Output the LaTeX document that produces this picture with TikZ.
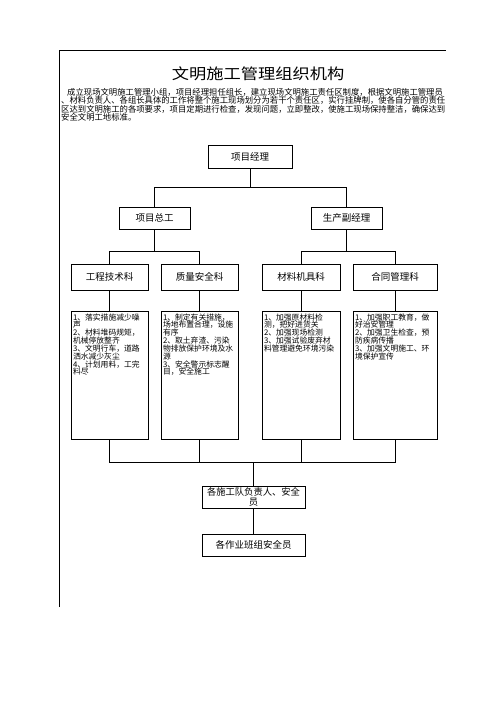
\documentclass[tikz,border=0pt]{standalone}
\usepackage{fontspec}
\setmainfont{Noto Sans CJK SC}
\newfontfamily\titleFont[FakeStretch=1.15]{Noto Sans CJK SC}
\usetikzlibrary{positioning}
\tikzstyle{chart} = [x = 1pt, y = -1pt]
\tikzstyle{frameLine} = [color=black, line width = .9pt]
\tikzstyle{link} = [color=black, line width = .8pt]
\tikzstyle{postBox} = [draw=black, line width = .8pt, inner sep = 0pt, font=\postFont]
\tikzstyle{noteBox} = [draw=black, line width = .8pt, inner sep = 2pt, anchor = north]
\newcommand{\postFont}{\fontsize{9.5}{10}\selectfont}
\newcommand{\noteFont}{\fontsize{7.8}{7.85}\selectfont}
\newcommand{\introFont}{\fontsize{8.35}{8.2}\selectfont}
\newcommand{\noteText}[2]{\parbox[t][124pt][t]{#1}{\raggedright\noteFont #2}}

\begin{document}
\begin{tikzpicture}[chart]
         \useasboundingbox (0,0) rectangle (496,702);
         \draw [frameLine] (59,607) -- (59,50) -- (446,50);

         \node (title) at (258,74) {\titleFont\fontsize{15}{15}\selectfont 文明施工管理组织机构};
         \begin{scope}
           \clip (0,0) rectangle (446,702);
           \node (intro) [anchor = north west, inner sep = 0pt, align = left, font=\introFont] at (61,88.5)
             {\hspace*{6pt}成立现场文明施工管理小组，项目经理担任组长，建立现场文明施工责任区制度，根据文明施工管理员\\
              、材料负责人、各组长具体的工作将整个施工现场划分为若干个责任区，实行挂牌制，使各自分管的责任\\
              区达到文明施工的各项要求，项目定期进行检查，发现问题，立即整改，使施工现场保持整洁，确保达到\\
              安全文明工地标准。};
         \end{scope}

         \node (pm) [postBox, minimum width = 84pt, minimum height = 23pt] at (250,156.5) {项目经理};
         \node (chief) [postBox, minimum width = 71pt, minimum height = 22pt] at (154.5,218) {项目总工};
         \node (deputy) [postBox, minimum width = 71pt, minimum height = 22pt] at (346.5,218) {生产副经理};

         \node (tech) [postBox, minimum width = 77pt, minimum height = 26pt] at (109.5,277) {工程技术科};
         \node (quality) [postBox, minimum width = 77pt, minimum height = 26pt] at (199.5,277) {质量安全科};
         \node (material) [postBox, minimum width = 78pt, minimum height = 26pt] at (301,277) {材料机具科};
         \node (contract) [postBox, minimum width = 84pt, minimum height = 26pt] at (395,277) {合同管理科};

         \node (techNote) [noteBox] at (109.5,311) {\noteText{73pt}{1、落实措施减少噪\\声\\2、材料堆码规矩，\\机械停放整齐\\3、文明行车，道路\\洒水减少灰尘\\4、计划用料，工完\\料尽}};
         \node (qualityNote) [noteBox] at (199.5,311) {\noteText{73pt}{1、制定有关措施，\\场地布置合理，设施\\有序\\2、取土弃渣、污染\\物排放保护环境及水\\源\\3、安全警示标志醒\\目，安全施工}};
         \node (materialNote) [noteBox] at (301,311) {\noteText{74pt}{1、加强原材料检\\测，把好进货关\\2、加强现场检测\\3、加强试验废弃材\\料管理避免环境污染}};
         \node (contractNote) [noteBox] at (395,311) {\noteText{80pt}{1、加强职工教育，做\\好治安管理\\2、加强卫生检查，预\\防疾病传播\\3、加强文明施工、环\\境保护宣传}};

         \node (team) [postBox, minimum width = 103pt, minimum height = 22pt, align = center, font=\fontsize{9.3}{10}\selectfont] at (253.5,497) {各施工队负责人、安全\\员};
         \node (crew) [postBox, minimum width = 103pt, minimum height = 22pt] at (253.5,545) {各作业班组安全员};

         \path (pm.south) ++(0,19) coordinate (forkA);
         \draw [link] (pm.south) -- (forkA);
         \draw [link] (chief.north) |- (forkA) -| (deputy.north);

         \path (chief.south) ++(0,22) coordinate (forkB);
         \draw [link] (chief.south) -- (forkB);
         \draw [link] (tech.north) |- (forkB) -| (quality.north);
         \path (deputy.south) ++(0,22) coordinate (forkC);
         \draw [link] (deputy.south) -- (forkC);
         \draw [link] (material.north) |- (forkC) -| (contract.north);

         \draw [link] (tech.south) -- (techNote.north);
         \draw [link] (quality.south) -- (qualityNote.north);
         \draw [link] (material.south) -- (materialNote.north);
         \draw [link] (contract.south) -- (contractNote.north);

         \path (techNote.south) ++(0,23) coordinate (forkD);
         \draw [link] (techNote.south) |- (contractNote.south |- forkD) -- (contractNote.south);
         \draw [link] (qualityNote.south) -- (qualityNote.south |- forkD);
         \draw [link] (materialNote.south) -- (materialNote.south |- forkD);
         \draw [link] (team.north |- forkD) -- (team.north);
         \draw [link] (team.south) -- (crew.north);
       \end{tikzpicture}
\end{document}
